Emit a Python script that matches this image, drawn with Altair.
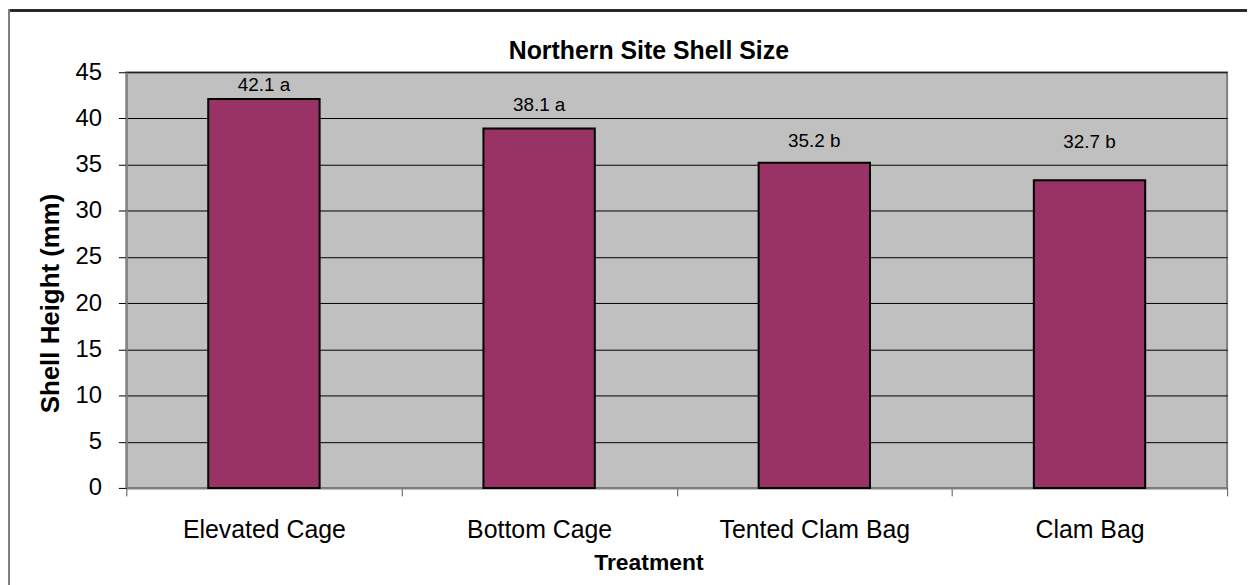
import altair as alt
import pandas as pd

# Data
treatments = ["Elevated Cage", "Bottom Cage", "Tented Clam Bag", "Clam Bag"]
bar_heights = [42.1, 38.9, 35.2, 33.3]
bar_labels = ["42.1 a", "38.1 a", "35.2 b", "32.7 b"]
label_heights = [43.6, 41.4, 37.6, 37.4]
y_ticks = [0, 5, 10, 15, 20, 25, 30, 35, 40, 45]

df = pd.DataFrame({
    "Treatment": treatments,
    "height": bar_heights,
    "label": bar_labels,
    "label_y": label_heights,
})

FONT = "Liberation Sans"
W, H = 1107, 418

x_enc = alt.X(
    "Treatment:N",
    sort=treatments,
    scale=alt.Scale(paddingInner=0, paddingOuter=0),
    axis=alt.Axis(
        title="Treatment",
        titleFont=FONT, titleFontSize=23, titleFontWeight="bold", titleColor="#000",
        titleX=525, titleY=82, titleBaseline="alphabetic", titleAnchor="middle",
        labelFont=FONT, labelFontSize=25, labelColor="#000", labelAngle=0,
        labelPadding=22, labelBaseline="top", labelLimit=0,
        tickBand="extent", tickSize=8, tickColor="#555", tickWidth=1,
        domainColor="#808080", domainWidth=2,
        grid=False,
    ),
)

y_scale = alt.Scale(domain=[0, 45], nice=False)

bars = alt.Chart(df).mark_bar(
    size=112, color="#993366", stroke="#000", strokeWidth=2
).encode(
    x=x_enc,
    y=alt.Y(
        "height:Q",
        scale=y_scale,
        axis=alt.Axis(
            title="Shell Height (mm)", values=y_ticks,
            titleFont=FONT, titleFontSize=26, titleFontWeight="bold", titleColor="#000",
            titleX=-76, titleY=232, titleAngle=-90, titleBaseline="middle", titleAnchor="middle",
            labelFont=FONT, labelFontSize=24, labelColor="#000", labelPadding=17,
            tickSize=8, tickColor="#000", tickWidth=1,
            domainColor="#808080", domainWidth=2,
            grid=True, gridColor="#000", gridWidth=1, gridOpacity=1,
        ),
    ),
)

labels = alt.Chart(df).mark_text(
    font=FONT, fontSize=19, color="#000", baseline="middle", align="center"
).encode(
    x=alt.X("Treatment:N", sort=treatments),
    y=alt.Y("label_y:Q", scale=y_scale),
    text="label:N",
)

# chart-area frame (decoration)
frame_top = alt.Chart(df).mark_rule(color="#222", strokeWidth=2).encode(
    x=alt.value(-119), x2=alt.value(W + 200), y=alt.value(-62)
)
frame_left = alt.Chart(df).mark_rule(color="#808080", strokeWidth=2).encode(
    x=alt.value(-118), y=alt.value(-63), y2=alt.value(H + 200)
)

chart = alt.layer(bars, labels, frame_top, frame_left).properties(
    width=W,
    height=H,
    title=alt.TitleParams(
        "Northern Site Shell Size",
        font=FONT, fontSize=25, fontWeight="bold", color="#000",
        anchor="middle", frame="group", baseline="alphabetic", offset=0, dx=-28, dy=76,
    ),
    autosize=alt.AutoSizeParams(type="none"),
    padding={"left": 119, "top": 63, "right": 20, "bottom": 96},
    background="white",
).configure_view(
    fill="#C0C0C0", stroke="#808080", strokeWidth=2
)

chart.save("out.html", embed_options={"renderer": "svg", "actions": False})
